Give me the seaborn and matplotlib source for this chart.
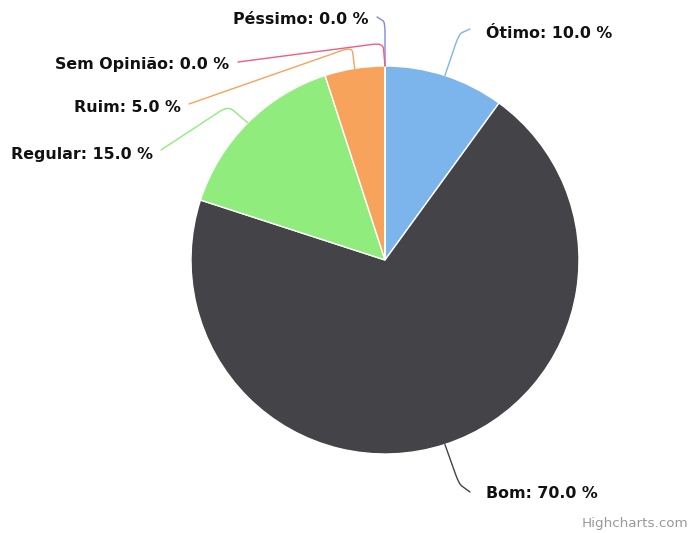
import numpy as np
import matplotlib
matplotlib.use('Agg')
import matplotlib.pyplot as plt
from matplotlib.path import Path
from matplotlib.patches import PathPatch
import seaborn as sns

# Data
categories = ['Ótimo', 'Bom', 'Regular', 'Ruim', 'Péssimo', 'Sem Opinião']
values = [10.0, 70.0, 15.0, 5.0, 0.0, 0.0]
colors = ['#7cb5ec', '#434348', '#90ed7d', '#f7a35c', '#8085e9', '#f15c80']

# Label layout in pixels: (text x, text y, align, elbow x, elbow y, line end x, line end y)
label_layout = {
    'Ótimo':       (486, 33, 'left', 459, 34, 470, 29),
    'Bom':         (486, 494, 'left', 459, 484, 470, 492),
    'Regular':     (153, 155, 'right', 228, 106, 161, 150),
    'Ruim':        (181, 108, 'right', 352, 47, 189, 104),
    'Sem Opinião': (229, 65, 'right', 383, 43, 238, 62),
    'Péssimo':     (368, 20, 'right', 385, 22, 377, 17),
}

W, H = 692, 533
CX, CY, R = 385, 260, 194


def px(x, y):
    return (x - CX) / R, (CY - y) / R


sns.set_style('white')
plt.rcParams['font.family'] = ['DejaVu Sans']

fig = plt.figure(figsize=(W / 100, H / 100), dpi=100)
ax = fig.add_axes([0, 0, 1, 1])

wedges, _ = ax.pie(values, colors=colors, startangle=90, counterclock=False,
                   radius=1, center=(0, 0),
                   wedgeprops=dict(edgecolor='white', linewidth=1))
ax.set_xlim(-CX / R, (W - CX) / R)
ax.set_ylim(-(H - CY) / R, CY / R)
ax.set_aspect('equal')
ax.axis('off')

# data labels with soft connectors
total = sum(values)
start = 0.0
for name, val, col in zip(categories, values, colors):
    mid = start + val / total * 360 / 2
    start += val / total * 360
    ang = np.deg2rad(mid)
    e = np.array([np.sin(ang), np.cos(ang)])
    tx, ty, ha, bx, by, lx, ly = label_layout[name]
    b = np.array(px(bx, by))
    l = np.array(px(lx, ly))
    # round off the elbow a little
    p1 = b + (e - b) * 0.25
    p2 = b + (l - b) * min(0.25, 10 / R / max(np.linalg.norm(l - b), 1e-6))
    verts = [e, p1, b, p2, l]
    codes = [Path.MOVETO, Path.LINETO, Path.CURVE3, Path.CURVE3, Path.LINETO]
    ax.add_patch(PathPatch(Path(verts, codes), facecolor='none',
                           edgecolor=col, lw=1, capstyle='round'))
    txd, tyd = px(tx, ty)
    ax.text(txd, tyd, f'{name}: {val:.1f} %', ha=ha, va='center',
            fontsize=11.4, fontweight='bold', color='#111111')

fig.text(688 / W, 1 - 523 / H, 'Highcharts.com', ha='right', va='center',
         fontsize=9.7, color='#999999')

fig.savefig('out.png', dpi=100)
